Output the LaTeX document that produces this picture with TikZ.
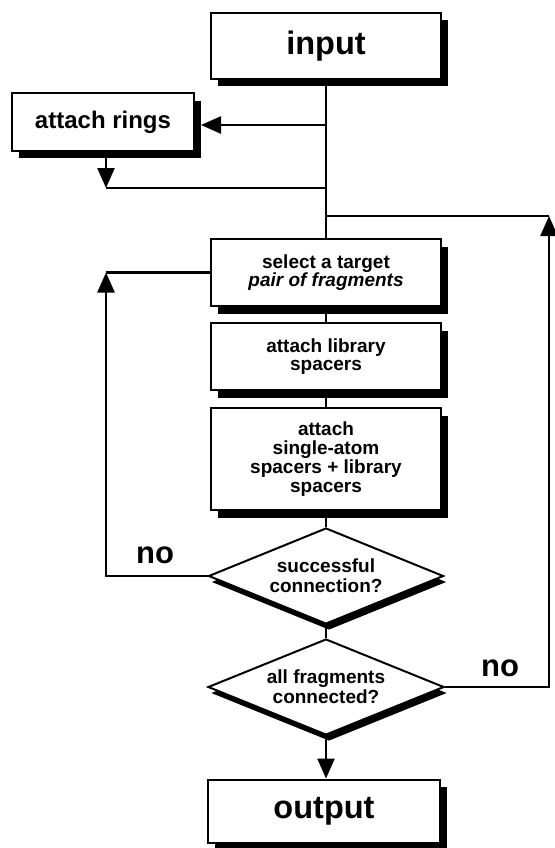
\documentclass[tikz,border=0pt]{standalone}
\usepackage{fontspec}
\setmainfont{Liberation Sans}
\usetikzlibrary{arrows.meta,shapes.geometric,shadows}
\tikzset{
  boxshadow/.style={drop shadow={shadow xshift=6.5pt,shadow yshift=-7.5pt,fill=black,opacity=1}},
  dshadow/.style={drop shadow={shadow xshift=3pt,shadow yshift=-6pt,fill=black,opacity=1}},
  procbox/.style={draw,line width=2pt,fill=white,inner sep=0pt,align=center,boxshadow},
  decision/.style={diamond,draw,line width=2pt,fill=white,inner sep=0pt,shape aspect=2.45,align=center,dshadow,
    font=\bfseries\fontsize{19}{20}\selectfont},
  smalltext/.style={font=\bfseries\fontsize{19}{18.8}\selectfont},
  bigtext/.style={font=\bfseries\fontsize{32.5}{34}\selectfont},
  conn/.style={line width=2.5pt},
  arrowline/.style={line width=2.5pt,-{Triangle[length=20pt,width=17pt]}},
  nolabel/.style={font=\bfseries\fontsize{31}{33}\selectfont,inner sep=0pt}
}
\begin{document}
\begin{tikzpicture}[x=1pt,y=-1pt]
\useasboundingbox (0,0) rectangle (554,848);
% nodes
\node[procbox,bigtext,minimum width=230pt,minimum height=66pt] (input) at (326,46) {input};
\node[procbox,font=\bfseries\fontsize{24}{26}\selectfont,minimum width=182pt,minimum height=57pt] (rings) at (103,122) {attach rings};
\node[procbox,smalltext,minimum width=230pt,minimum height=67pt] (select) at (326,272.5) {select a target\\\textit{pair of fragments}};
\node[procbox,smalltext,minimum width=230pt,minimum height=67pt] (lib) at (326,356.5) {attach library\\spacers};
\node[procbox,smalltext,minimum width=230pt,minimum height=102pt] (single) at (326,459) {attach\\single-atom\\spacers + library\\spacers};
\node[decision,minimum width=235pt,minimum height=96pt] (d1) at (326,576) {successful\\connection?};
\node[decision,minimum width=236pt,minimum height=96pt] (d2) at (326,687) {all fragments\\connected?};
\node[procbox,bigtext,minimum width=232pt,minimum height=63pt] (output) at (324,811) {output};
\node[nolabel] (no1) at (155,555) {no};
\node[nolabel] (no2) at (500,668) {no};
% junction coordinates
\coordinate (jr) at (326,125);
\coordinate (jb) at (326,188);
\coordinate (jt) at (326,216);
\coordinate (rb) at (106,188);
\coordinate (ll) at (106,272.5);
\coordinate (rr) at (549,216);
% connectors
\draw[conn] (input.south) -- (select.north);
\draw[arrowline] (jr) -- ([xshift=6pt]rings.east |- jr);
\draw[arrowline] (rings.south -| rb) -- (rb);
\draw[conn] (rb) -- (jb);
\draw[arrowline] (d2.east) -| (rr);
\draw[conn] (rr) -- (jt);
\draw[arrowline] (d1.west) -| (ll);
\draw[conn] (ll) -- (select.west);
\draw[conn] (select.south) -- (lib.north);
\draw[conn] (lib.south) -- (single.north);
\draw[conn] (single.south) -- (d1.north);
\draw[conn] (d1.south) -- (d2.north);
\draw[arrowline] (d2.south) -- (d2.south |- output.north);
\end{tikzpicture}
\end{document}
